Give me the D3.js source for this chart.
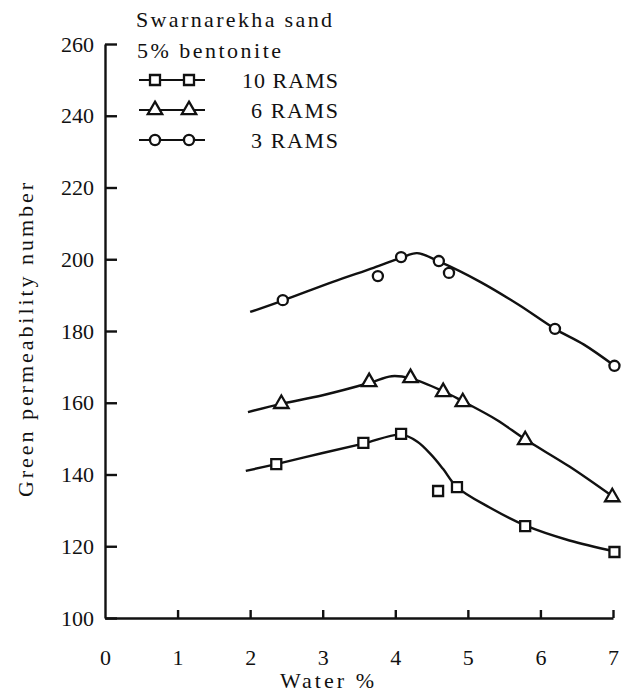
<!DOCTYPE html>
<html>
<head>
<meta charset="utf-8">
<script src="https://cdn.jsdelivr.net/npm/d3@7"></script>
</head>
<body style="margin:0; background:#fff">
<script>
//Width and height
var w = 634;
var h = 692;
var fontName = "Liberation Serif";

//tick values
var xTicks = [0, 1, 2, 3, 4, 5, 6, 7];
var yTicks = [100, 120, 140, 160, 180, 200, 220, 240, 260];

//measured points, 10 RAMS (squares)
var rams10X = [2.36, 3.56, 4.08, 4.59, 4.85, 5.79, 7.02];
var rams10Y = [142.9, 148.8, 151.3, 135.4, 136.5, 125.6, 118.4];
//measured points, 6 RAMS (triangles)
var rams6X = [2.43, 3.64, 4.21, 4.66, 4.93, 5.79, 6.99];
var rams6Y = [159.7, 165.8, 166.9, 163.0, 160.2, 149.6, 133.7];
//measured points, 3 RAMS (circles)
var rams3X = [2.45, 3.76, 4.08, 4.60, 4.74, 6.20, 7.02];
var rams3Y = [188.6, 195.3, 200.6, 199.5, 196.2, 180.6, 170.3];

//hand drawn fit curves
var fit10X = [1.94, 2.36, 3.0, 3.56, 4.08, 4.3, 4.5, 4.66, 4.85, 5.3, 5.79, 6.4, 7.02];
var fit10Y = [141.0, 142.9, 146.0, 148.6, 151.1, 149.2, 145.4, 141.5, 136.5, 130.8, 125.8, 121.6, 118.6];
var fit6X = [1.97, 2.43, 3.0, 3.64, 3.95, 4.21, 4.66, 4.93, 5.4, 5.79, 6.4, 7.0];
var fit6Y = [157.4, 159.7, 162.1, 165.5, 167.4, 166.8, 163.2, 160.4, 155.2, 149.8, 142.2, 133.8];
var fit3X = [2.0, 2.45, 3.14, 3.7, 4.08, 4.3, 4.6, 5.17, 5.7, 6.2, 6.6, 7.02];
var fit3Y = [185.3, 188.5, 193.7, 197.6, 200.4, 201.7, 199.4, 193.7, 187.3, 180.6, 176.2, 170.3];

var seriesNames = ["10 RAMS", "6 RAMS", "3 RAMS"];

//scales
var xScale = d3.scaleLinear().domain([0, 7]).range([105, 613]);
var yScale = d3.scaleLinear().domain([100, 260]).range([618, 44]);

var svg = d3.select("body")
            .append("svg")
            .attr("width", w)
            .attr("height", h)
            .attr("font-family", fontName);

//axes, ticks point inward
var yAxis = d3.axisLeft(yScale)
    .tickValues(yTicks)
    .tickFormat(d3.format("d"))
    .tickSizeInner(-12)
    .tickSizeOuter(0)
    .tickPadding(11);

var xAxis = d3.axisBottom(xScale)
    .tickValues(xTicks)
    .tickFormat(d3.format("d"))
    .tickSizeInner(-8)
    .tickSizeOuter(0)
    .tickPadding(31);

var gy = svg.append("g")
    .attr("transform", "translate(" + xScale(0) + ",0)")
    .call(yAxis);
var gx = svg.append("g")
    .attr("transform", "translate(0," + yScale(100) + ")")
    .call(xAxis);

[gx, gy].forEach(function(g) {
    g.attr("font-family", fontName).attr("font-size", 22);
    g.selectAll("path, line").attr("stroke", "#111").attr("stroke-width", 2.4);
    g.selectAll("text").attr("fill", "#111");
});
gx.select(".tick line").remove();   // no tick at 0

//helper for plain labels
function label(txt, x, y, len, anchor) {
    var t = svg.append("text")
        .attr("x", x)
        .attr("y", y)
        .attr("text-anchor", anchor || "start")
        .attr("font-family", fontName)
        .attr("font-size", 22)
        .attr("fill", "#111")
        .text(txt);
    if (len) t.attr("textLength", len);
    return t;
}

//axis titles
label("Water %", 327, 688, 94, "middle");
label("Green permeability number", 0, 0, 314, "middle")
    .attr("transform", "translate(33,340) rotate(-90)");

//curves
var line = d3.line()
    .x(function(d) { return xScale(d[0]); })
    .y(function(d) { return yScale(d[1]); })
    .curve(d3.curveCatmullRom.alpha(0.5));

var fits = [[fit10X, fit10Y], [fit6X, fit6Y], [fit3X, fit3Y]];
fits.forEach(function(f) {
    var pts = f[0].map(function(x, i) { return [x, f[1][i]]; });
    svg.append("path")
        .datum(pts)
        .attr("d", line)
        .attr("fill", "none")
        .attr("stroke", "#111")
        .attr("stroke-width", 2.4);
});

//marker drawing
var symbols = [d3.symbolSquare, d3.symbolTriangle, d3.symbolCircle];
var sizes = [100, 90, 80];

function marker(g, k) {
    return g.append("path")
        .attr("d", d3.symbol().type(symbols[k]).size(sizes[k]))
        .attr("fill", "#fff")
        .attr("stroke", "#111")
        .attr("stroke-width", 2.3);
}

var points = [[rams10X, rams10Y], [rams6X, rams6Y], [rams3X, rams3Y]];
points.forEach(function(p, k) {
    svg.append("g").selectAll("g")
        .data(p[0].map(function(x, i) { return [x, p[1][i]]; }))
        .enter()
        .append("g")
        .attr("transform", function(d) {
            return "translate(" + xScale(d[0]) + "," + yScale(d[1]) + ")";
        })
        .each(function() { marker(d3.select(this), k); });
});

//legend
label("Swarnarekha sand", 136, 27, 196);
label("5% bentonite", 137, 58, 144);

var legendWidths = [96, 87, 87];
seriesNames.forEach(function(name, k) {
    var ly = 80 + k * 30;
    svg.append("line")
        .attr("x1", 139).attr("x2", 205)
        .attr("y1", ly).attr("y2", ly)
        .attr("stroke", "#111")
        .attr("stroke-width", 2.2);
    [155, 189].forEach(function(lx) {
        marker(svg.append("g").attr("transform", "translate(" + lx + "," + ly + ")"), k);
    });
    label(name, 338, ly + 8, legendWidths[k], "end");
});
</script>
</body>
</html>
